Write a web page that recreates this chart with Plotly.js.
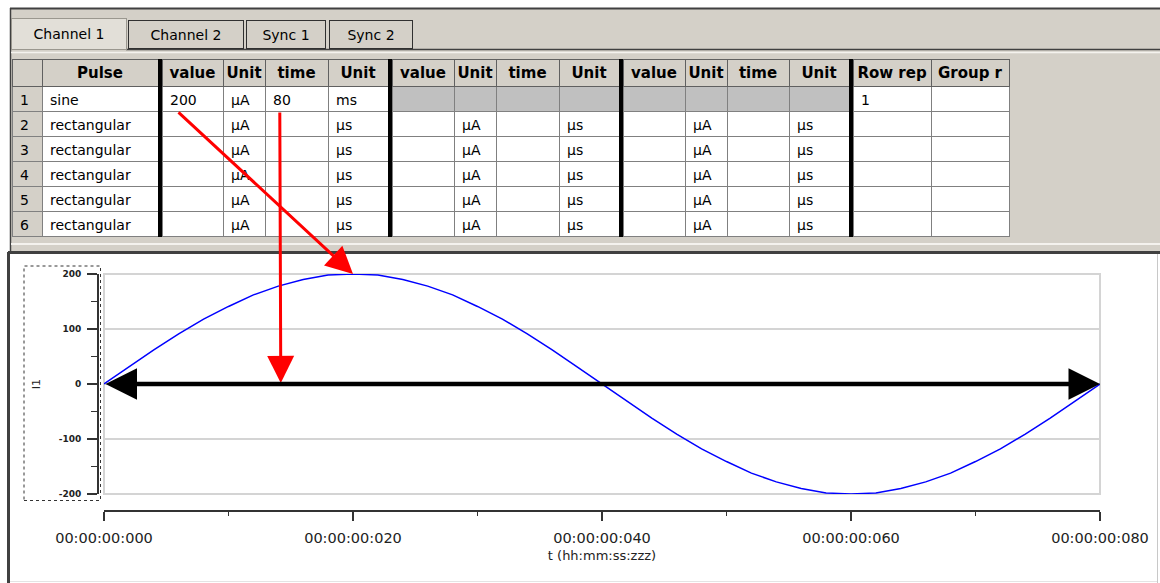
<!DOCTYPE html>
<html><head><meta charset="utf-8">
<script src="https://cdn.plot.ly/plotly-3.0.1.min.js"></script>
<style>html,body{margin:0;padding:0;background:#fff;}#chart{width:1160px;height:583px;}</style>
</head><body><div id="chart"></div>
<script>
// ---------- table data ----------
const tabLabels = ['Channel 1', 'Channel 2', 'Sync 1', 'Sync 2'];
const rowNumbers = ['1', '2', '3', '4', '5', '6'];
const pulseTypes = ['sine', 'rectangular', 'rectangular', 'rectangular', 'rectangular', 'rectangular'];
const groupHeaders = ['value', 'Unit', 'time', 'Unit'];
const g1Value = ['200', '', '', '', '', ''];
const g1ValueUnit = ['µA', 'µA', 'µA', 'µA', 'µA', 'µA'];
const g1Time = ['80', '', '', '', '', ''];
const g1TimeUnit = ['ms', 'µs', 'µs', 'µs', 'µs', 'µs'];
const g2Value = ['', '', '', '', '', ''];
const g2ValueUnit = ['', 'µA', 'µA', 'µA', 'µA', 'µA'];
const g2Time = ['', '', '', '', '', ''];
const g2TimeUnit = ['', 'µs', 'µs', 'µs', 'µs', 'µs'];
const g3Value = ['', '', '', '', '', ''];
const g3ValueUnit = ['', 'µA', 'µA', 'µA', 'µA', 'µA'];
const g3Time = ['', '', '', '', '', ''];
const g3TimeUnit = ['', 'µs', 'µs', 'µs', 'µs', 'µs'];
const rowRepeat = ['1', '', '', '', '', ''];
const groupRepeat = ['', '', '', '', '', ''];

// ---------- waveform data ----------
const timeMs = [0,2,4,6,8,10,12,14,16,18,20,22,24,26,28,30,32,34,36,38,40,
                42,44,46,48,50,52,54,56,58,60,62,64,66,68,70,72,74,76,78,80];
const currentUA = [0,31,62,91,118,141,162,178,190,198,200,198,190,178,162,141,118,91,62,31,0,
                   -31,-62,-91,-118,-141,-162,-178,-190,-198,-200,-198,-190,-178,-162,-141,-118,-91,-62,-31,0];
const xTickTimes = [0, 20, 40, 60, 80];
const xTickLabels = ['00:00:00:000', '00:00:00:020', '00:00:00:040', '00:00:00:060', '00:00:00:080'];
const yTickVals = [-200, -100, 0, 100, 200];
const yTickLabels = ['-200', '-100', '0', '100', '200'];

// ---------- build the table ----------
const W = 1160, H = 583;
const px = x => x / W, py = y => 1 - y / H;
const GRAY = '#d4d0c8', DIS = '#c0c0c0', SEP = '#000000';
const empty6 = ['', '', '', '', '', ''];
const cols = [];
function addCol(h, w, vals, fills, line) { cols.push({h, w, vals, fills, line}); }
const white6 = Array(6).fill('#ffffff');
const sep = () => addCol('', 4, empty6, Array(6).fill(SEP), SEP);
addCol('', 30, rowNumbers, Array(6).fill(GRAY), '#808080');
addCol('Pulse', 116, pulseTypes, white6, '#808080');
sep();
const groups = [[g1Value, g1ValueUnit, g1Time, g1TimeUnit], [g2Value, g2ValueUnit, g2Time, g2TimeUnit], [g3Value, g3ValueUnit, g3Time, g3TimeUnit]];
const gw = [[61, 42, 63, 60], [62, 42, 63, 60], [62, 42, 62, 60]];
groups.forEach((g, gi) => {
  g.forEach((vals, k) => {
    const fills = gi === 0 ? white6 : [DIS].concat(Array(5).fill('#ffffff'));
    addCol(groupHeaders[k], gw[gi][k], vals, fills, '#808080');
  });
  sep();
});
addCol('Row\u00a0rep', 78, rowRepeat, white6, '#808080');
addCol('Group\u00a0r', 78, groupRepeat, white6, '#808080');

const tableTrace = {
  type: 'table',
  domain: {x: [px(12), px(1009)], y: [py(238), py(59)]},
  columnwidth: cols.map(c => c.w),
  header: {
    values: cols.map(c => c.h),
    height: 27,
    align: 'center',
    fill: {color: cols.map(c => c.fills[0] === SEP ? SEP : GRAY)},
    line: {color: cols.map(c => c.line === SEP ? SEP : '#606060'), width: 1},
    font: {family: 'DejaVu Sans', size: 15, color: '#000', weight: 'bold'}
  },
  cells: {
    values: cols.map(c => c.vals),
    height: 25,
    align: 'left',
    fill: {color: cols.map(c => c.fills)},
    line: {color: cols.map(c => c.line), width: 1},
    font: {family: 'DejaVu Sans', size: 14, color: '#000'}
  }
};

const sineTrace = {
  type: 'scatter', mode: 'lines', x: timeMs, y: currentUA,
  line: {color: '#0000ff', width: 1.5}, hoverinfo: 'skip', showlegend: false
};

// ---------- decoration ----------
const shapes = [
  {type: 'rect', xref: 'paper', yref: 'paper', x0: px(10), x1: px(1160), y0: py(252), y1: py(8), fillcolor: GRAY, line: {width: 0}, layer: 'below'},
  {type: 'line', xref: 'paper', yref: 'paper', x0: px(10), x1: px(1160), y0: py(8.5), y1: py(8.5), line: {color: '#404040', width: 2}},
  {type: 'line', xref: 'paper', yref: 'paper', x0: px(10.5), x1: px(10.5), y0: py(8), y1: py(252), line: {color: '#404040', width: 1.5}},
  {type: 'line', xref: 'paper', yref: 'paper', x0: px(126), x1: px(1160), y0: py(49.5), y1: py(49.5), line: {color: '#404040', width: 1.5}},
  {type: 'line', xref: 'paper', yref: 'paper', x0: px(11), x1: px(1160), y0: py(52.5), y1: py(52.5), line: {color: '#f4f2ee', width: 1.5}},
  {type: 'line', xref: 'paper', yref: 'paper', x0: px(11), x1: px(1160), y0: py(244), y1: py(244), line: {color: '#f4f2ee', width: 2}},
  {type: 'rect', xref: 'paper', yref: 'paper', x0: px(9), x1: px(1157), y0: py(583), y1: py(252), fillcolor: '#ffffff', line: {width: 0}, layer: 'below'},
  {type: 'line', xref: 'paper', yref: 'paper', x0: px(8), x1: px(1160), y0: py(252.5), y1: py(252.5), line: {color: '#404040', width: 3}},
  {type: 'line', xref: 'paper', yref: 'paper', x0: px(8.5), x1: px(8.5), y0: py(252), y1: py(583), line: {color: '#404040', width: 3}},
  {type: 'line', xref: 'paper', yref: 'paper', x0: px(1157.5), x1: px(1157.5), y0: py(254), y1: py(583), line: {color: '#c8c8c8', width: 1}},
  {type: 'line', xref: 'paper', yref: 'paper', x0: px(10), x1: px(1157), y0: py(581.5), y1: py(581.5), line: {color: '#e4e4e4', width: 1}},
  {type: 'rect', xref: 'paper', yref: 'paper', x0: px(24), x1: px(100.5), y0: py(500.5), y1: py(266), line: {color: '#333', width: 1, dash: 'dot'}},
  {type: 'rect', xref: 'x domain', yref: 'y domain', x0: 0, x1: 1, y0: 0, y1: 1, line: {color: '#d4d4d4', width: 2}, layer: 'below'}
];

const tabX = [69, 186, 286, 371];
const tabW = [112, 112, 76, 80];
const annotations = tabLabels.map((t, i) => ({
  xref: 'paper', yref: 'paper', x: px(tabX[i]), y: py(i === 0 ? 34 : 34.5), xanchor: 'center', yanchor: 'middle',
  text: t, showarrow: false, width: tabW[i], height: i === 0 ? 28 : 25,
  bgcolor: i === 0 ? '#e2dfd8' : GRAY, bordercolor: i === 0 ? '#9a978f' : '#303030', borderwidth: 1,
  font: {family: 'DejaVu Sans', size: 14, color: '#000'}
}));
// red pointer arrows from the table cells to the curve
annotations.push({xref: 'x', yref: 'y', x: 20, y: 200, ax: -176, ay: -163, text: '', showarrow: true,
  arrowhead: 2, arrowsize: 1.8, arrowwidth: 3, arrowcolor: '#ff0000'});
annotations.push({xref: 'x', yref: 'y', x: 14.2, y: 2, ax: -1, ay: -272, text: '', showarrow: true,
  arrowhead: 2, arrowsize: 1.8, arrowwidth: 3, arrowcolor: '#ff0000'});
// black period arrow
annotations.push({xref: 'x', yref: 'y', x: 80, y: 0, axref: 'x', ayref: 'y', ax: 0, ay: 0, text: '', showarrow: true,
  arrowside: 'end+start', arrowhead: 2, startarrowhead: 2, arrowsize: 1.4, startarrowsize: 1.4, arrowwidth: 4.5, arrowcolor: '#000'});

const layout = {
  width: W, height: H, autosize: false,
  margin: {l: 0, r: 0, t: 0, b: 0, pad: 0},
  paper_bgcolor: '#ffffff', plot_bgcolor: 'rgba(0,0,0,0)',
  showlegend: false,
  font: {family: 'DejaVu Sans', color: '#222'},
  xaxis: {
    domain: [px(104), px(1100)], range: [0, 80], anchor: 'free', position: py(510),
    showline: true, linecolor: '#333', linewidth: 1.5, ticks: 'outside', ticklen: 9, tickwidth: 1.5, tickcolor: '#333',
    tickmode: 'array', tickvals: xTickTimes, ticktext: xTickLabels, ticklabelstandoff: 5,
    tickfont: {family: 'DejaVu Sans', size: 14.5, color: '#222'},
    minor: {tickmode: 'linear', tick0: 0, dtick: 10, ticklen: 4, tickcolor: '#333', showgrid: false},
    showgrid: false, zeroline: false, automargin: false, fixedrange: true,
    title: {text: 't (hh:mm:ss:zzz)', font: {family: 'DejaVu Sans', size: 13, color: '#222'}, standoff: 6}
  },
  yaxis: {
    domain: [py(494), py(274)], range: [-200, 200], anchor: 'free', position: px(97),
    showline: true, linecolor: '#333', linewidth: 1.5, ticks: 'outside', ticklen: 10, tickwidth: 1.5, tickcolor: '#333',
    tickmode: 'array', tickvals: yTickVals, ticktext: yTickLabels, ticklabelstandoff: 4,
    tickfont: {family: 'DejaVu Sans', size: 9, color: '#222', weight: 'bold'},
    minor: {tickmode: 'linear', tick0: 0, dtick: 50, ticklen: 6, tickcolor: '#333', showgrid: false},
    showgrid: true, gridcolor: '#d4d4d4', gridwidth: 2, zeroline: false, automargin: false, fixedrange: true,
    title: {text: 'I1', font: {family: 'DejaVu Sans', size: 11, color: '#222'}, standoff: 14}
  },
  shapes: shapes,
  annotations: annotations
};

Plotly.newPlot('chart', [tableTrace, sineTrace], layout, {displayModeBar: false, staticPlot: true});
</script>
</body></html>
